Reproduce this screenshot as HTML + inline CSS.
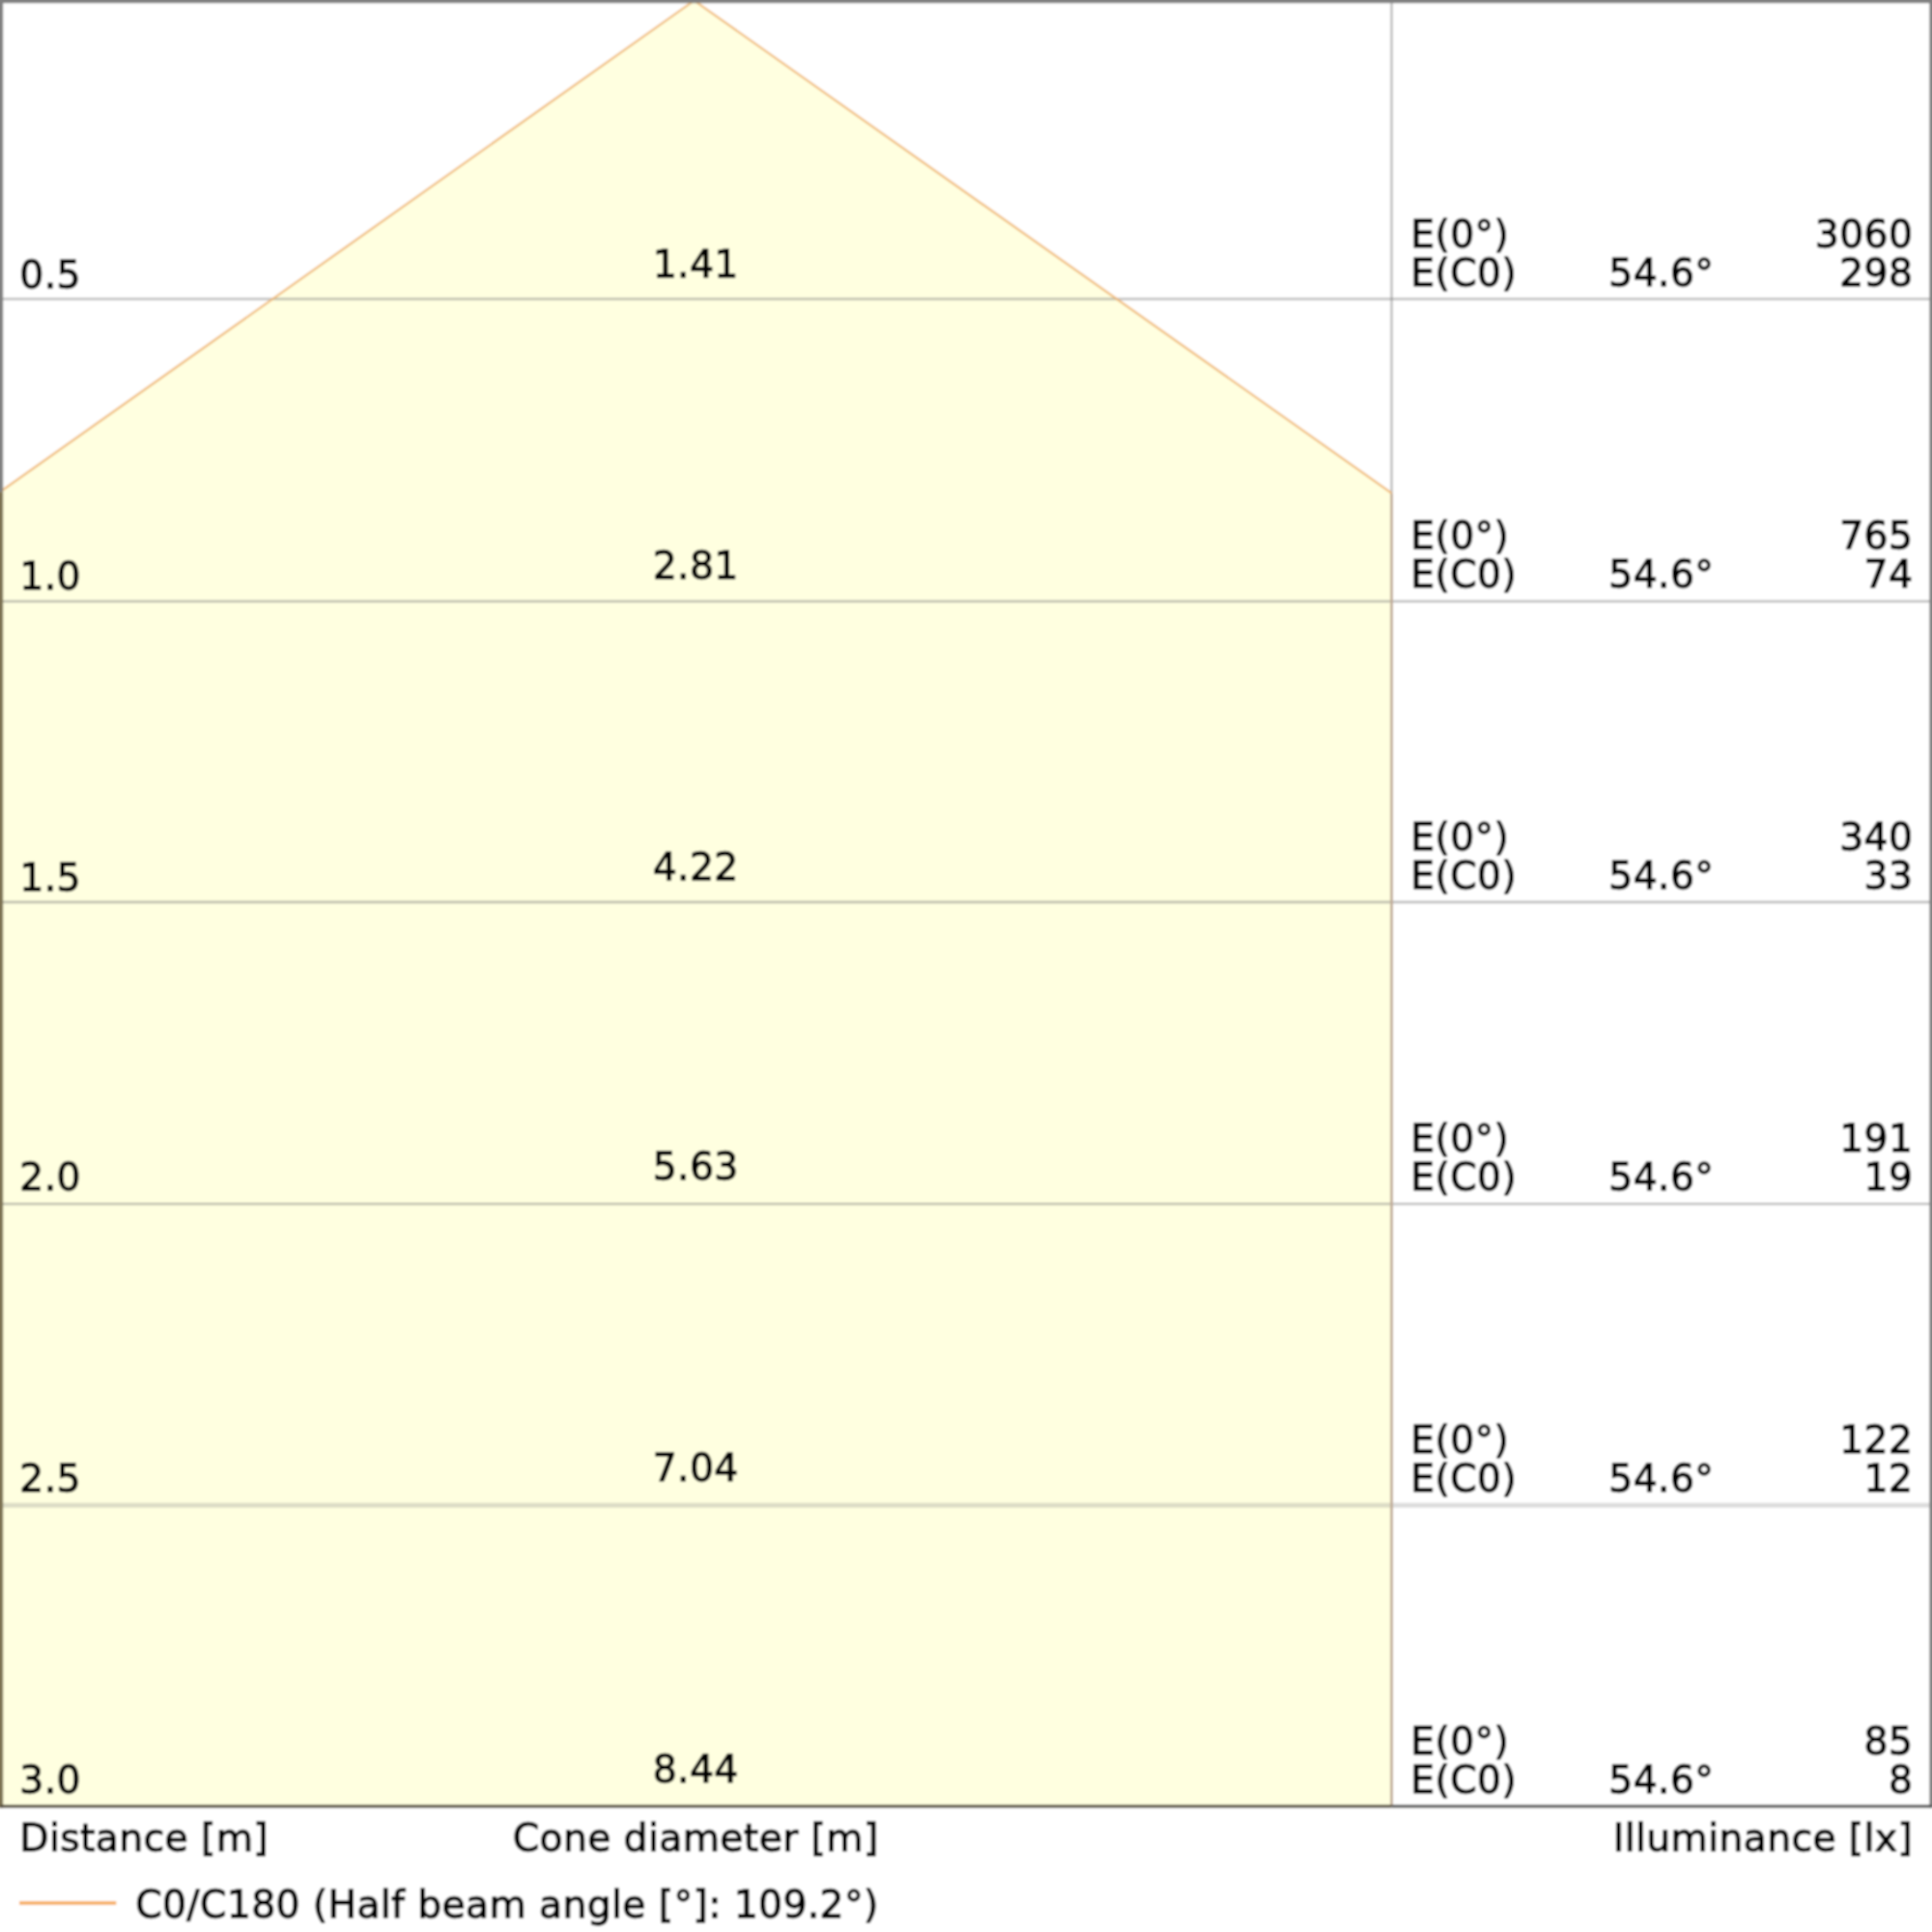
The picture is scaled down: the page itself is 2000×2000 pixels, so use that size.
<!DOCTYPE html>
<html><head><meta charset="utf-8"><title>Cone diagram</title>
<style>
html,body{margin:0;padding:0;background:#fff;}
body{width:2000px;height:2000px;overflow:hidden;}
svg{display:block;font-family:"DejaVu Sans","Liberation Sans",sans-serif;font-size:39.3px;letter-spacing:0.37px;fill:#000;}
text{stroke:#000;stroke-width:1.3px;stroke-linejoin:round;}
</style></head><body>
<svg width="2000" height="2000" viewBox="0 0 2000 2000">
<defs><filter id="soft" filterUnits="userSpaceOnUse" x="-20" y="-20" width="2040" height="2040"><feGaussianBlur stdDeviation="0.9"/></filter></defs>
<g filter="url(#soft)">
<rect x="-20" y="-20" width="2040" height="2040" fill="#fff"/>
<polygon points="718.6,0.6 1440.6,510.5 1440.6,1869.9 0,1869.9 0,509.3" fill="#ffffe0"/>
<line x1="0" y1="309.5" x2="2000" y2="309.5" stroke="#787878" stroke-opacity="0.47" stroke-width="2.6"/>
<line x1="0" y1="622.5" x2="2000" y2="622.5" stroke="#787878" stroke-opacity="0.47" stroke-width="2.6"/>
<line x1="0" y1="933.9" x2="2000" y2="933.9" stroke="#787878" stroke-opacity="0.47" stroke-width="2.6"/>
<line x1="0" y1="1246.2" x2="2000" y2="1246.2" stroke="#787878" stroke-opacity="0.47" stroke-width="2.6"/>
<line x1="0" y1="1558.2" x2="2000" y2="1558.2" stroke="#787878" stroke-opacity="0.25" stroke-width="5"/>
<line x1="1440.6" y1="0" x2="1440.6" y2="510.5" stroke="#787878" stroke-opacity="0.47" stroke-width="2.6"/>
<line x1="1440.6" y1="510.5" x2="1440.6" y2="1869.9" stroke="#c0ab96" stroke-width="2.8"/>
<polyline points="0,509.3 718.6,0.6 1440.6,510.5" fill="none" stroke="#efb46c" stroke-width="2.4" stroke-opacity="0.85"/>
<line x1="-5" y1="-0.7" x2="2005" y2="-0.7" stroke="#808080" stroke-width="8"/>
<line x1="-0.8" y1="-5" x2="-0.8" y2="509.3" stroke="#808080" stroke-width="8"/>
<line x1="-0.8" y1="509.3" x2="-0.8" y2="1871.4" stroke="#7d7253" stroke-width="8"/>
<line x1="2001.3" y1="-5" x2="2001.3" y2="1871.4" stroke="#808080" stroke-width="8"/>
<line x1="0" y1="1869.9" x2="1440.6" y2="1869.9" stroke="#575040" stroke-width="3.1"/>
<line x1="1440.6" y1="1869.9" x2="2000" y2="1869.9" stroke="#585858" stroke-width="3.1"/>
<text x="20.30" y="297.90">0.5</text>
<text x="720.18" y="287.20" text-anchor="middle">1.41</text>
<text x="1460.30" y="255.60">E(0°)</text>
<text x="1460.30" y="296.00">E(C0)</text>
<text x="1665.30" y="296.00">54.6°</text>
<text x="1980.37" y="255.60" text-anchor="end">3060</text>
<text x="1980.37" y="296.00" text-anchor="end">298</text>
<text x="20.30" y="609.90">1.0</text>
<text x="720.18" y="599.20" text-anchor="middle">2.81</text>
<text x="1460.30" y="567.60">E(0°)</text>
<text x="1460.30" y="608.00">E(C0)</text>
<text x="1665.30" y="608.00">54.6°</text>
<text x="1980.37" y="567.60" text-anchor="end">765</text>
<text x="1980.37" y="608.00" text-anchor="end">74</text>
<text x="20.30" y="921.90">1.5</text>
<text x="720.18" y="911.20" text-anchor="middle">4.22</text>
<text x="1460.30" y="879.60">E(0°)</text>
<text x="1460.30" y="920.00">E(C0)</text>
<text x="1665.30" y="920.00">54.6°</text>
<text x="1980.37" y="879.60" text-anchor="end">340</text>
<text x="1980.37" y="920.00" text-anchor="end">33</text>
<text x="20.30" y="1231.80">2.0</text>
<text x="720.18" y="1221.10" text-anchor="middle">5.63</text>
<text x="1460.30" y="1191.60">E(0°)</text>
<text x="1460.30" y="1232.00">E(C0)</text>
<text x="1665.30" y="1232.00">54.6°</text>
<text x="1980.37" y="1191.60" text-anchor="end">191</text>
<text x="1980.37" y="1232.00" text-anchor="end">19</text>
<text x="20.30" y="1543.80">2.5</text>
<text x="720.18" y="1533.10" text-anchor="middle">7.04</text>
<text x="1460.30" y="1503.60">E(0°)</text>
<text x="1460.30" y="1544.00">E(C0)</text>
<text x="1665.30" y="1544.00">54.6°</text>
<text x="1980.37" y="1503.60" text-anchor="end">122</text>
<text x="1980.37" y="1544.00" text-anchor="end">12</text>
<text x="20.30" y="1855.80">3.0</text>
<text x="720.18" y="1845.10" text-anchor="middle">8.44</text>
<text x="1460.30" y="1815.60">E(0°)</text>
<text x="1460.30" y="1856.00">E(C0)</text>
<text x="1665.30" y="1856.00">54.6°</text>
<text x="1980.37" y="1815.60" text-anchor="end">85</text>
<text x="1980.37" y="1856.00" text-anchor="end">8</text>
<text x="20.30" y="1916.00">Distance [m]</text>
<text x="720.18" y="1916.00" text-anchor="middle">Cone diameter [m]</text>
<text x="1980.17" y="1916.00" text-anchor="end">Illuminance [lx]</text>
<line x1="20" y1="1970" x2="120.3" y2="1970" stroke="#f7b26a" stroke-width="4"/>
<text x="140.20" y="1985.40">C0/C180 (Half beam angle [°]: 109.2°)</text>
</g></svg>
</body></html>
